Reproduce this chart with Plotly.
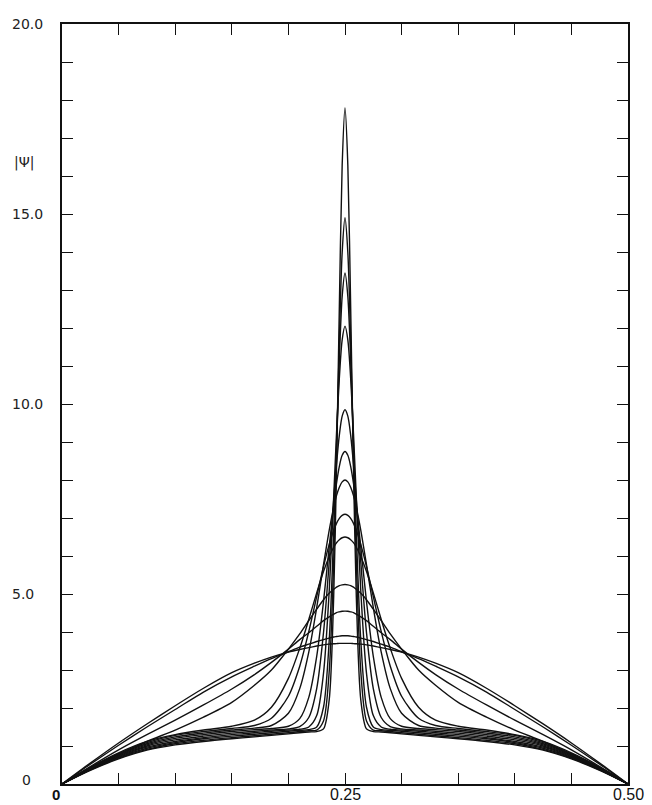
import plotly.graph_objects as go

# abscissa (left half, centre, mirrored right half)
x = [0, 0.025, 0.05, 0.075, 0.1, 0.125, 0.15, 0.17, 0.185, 0.2, 0.21, 0.218, 0.225,
     0.231, 0.236, 0.24, 0.2425, 0.245, 0.2475, 0.25,
     0.2525, 0.255, 0.2575, 0.26, 0.264, 0.269, 0.275, 0.282, 0.29, 0.3, 0.315,
     0.33, 0.35, 0.375, 0.4, 0.425, 0.45, 0.475, 0.5]

# |psi| profiles, one list per curve (peak heights 17.8 ... 3.7)
psi_01 = [0, .36, .66, .89, 1.03, 1.12, 1.19, 1.24, 1.28, 1.32, 1.35, 1.37, 1.38, 1.45, 2.2, 4.92, 8.3, 12.56, 16.29, 17.8,
          16.29, 12.56, 8.3, 4.92, 2.2, 1.45, 1.38, 1.37, 1.35, 1.32, 1.28, 1.24, 1.19, 1.12, 1.03, .89, .66, .36, 0]
psi_02 = [0, .37, .68, .91, 1.06, 1.15, 1.22, 1.27, 1.31, 1.35, 1.38, 1.4, 1.42, 1.66, 2.94, 5.84, 8.63, 11.63, 13.99, 14.9,
          13.99, 11.63, 8.63, 5.84, 2.94, 1.66, 1.42, 1.4, 1.38, 1.35, 1.31, 1.27, 1.22, 1.15, 1.06, .91, .68, .37, 0]
psi_03 = [0, .38, .70, .94, 1.09, 1.19, 1.26, 1.31, 1.35, 1.39, 1.41, 1.43, 1.5, 2.02, 3.75, 6.61, 8.92, 11.17, 12.83, 13.45,
          12.83, 11.17, 8.92, 6.61, 3.75, 2.02, 1.5, 1.43, 1.41, 1.39, 1.35, 1.31, 1.26, 1.19, 1.09, .94, .70, .38, 0]
psi_04 = [0, .39, .72, .97, 1.12, 1.22, 1.30, 1.35, 1.39, 1.42, 1.44, 1.5, 1.8, 2.91, 5.05, 7.55, 9.22, 10.68, 11.69, 12.05,
          11.69, 10.68, 9.22, 7.55, 5.05, 2.91, 1.8, 1.5, 1.44, 1.42, 1.39, 1.35, 1.30, 1.22, 1.12, .97, .72, .39, 0]
psi_05 = [0, .40, .74, 1.0, 1.16, 1.26, 1.34, 1.39, 1.42, 1.45, 1.51, 1.75, 2.51, 3.98, 5.82, 7.47, 8.41, 9.18, 9.68, 9.85,
          9.68, 9.18, 8.41, 7.47, 5.82, 3.98, 2.51, 1.75, 1.51, 1.45, 1.42, 1.39, 1.34, 1.26, 1.16, 1.0, .74, .40, 0]
psi_06 = [0, .41, .76, 1.03, 1.2, 1.3, 1.38, 1.43, 1.46, 1.52, 1.72, 2.28, 3.36, 4.8, 6.22, 7.33, 7.91, 8.36, 8.65, 8.75,
          8.65, 8.36, 7.91, 7.33, 6.22, 4.8, 3.36, 2.28, 1.72, 1.52, 1.46, 1.43, 1.38, 1.3, 1.2, 1.03, .76, .41, 0]
psi_07 = [0, .42, .78, 1.06, 1.24, 1.34, 1.42, 1.47, 1.54, 1.86, 2.51, 3.47, 4.64, 5.77, 6.67, 7.28, 7.59, 7.81, 7.95, 8.0,
          7.95, 7.81, 7.59, 7.28, 6.67, 5.77, 4.64, 3.47, 2.51, 1.86, 1.54, 1.47, 1.42, 1.34, 1.24, 1.06, .78, .42, 0]
psi_08 = [0, .43, .80, 1.09, 1.28, 1.38, 1.46, 1.54, 1.73, 2.31, 3.1, 4.01, 4.93, 5.72, 6.3, 6.68, 6.86, 6.99, 7.07, 7.1,
          7.07, 6.99, 6.86, 6.68, 6.3, 5.72, 4.93, 4.01, 3.1, 2.31, 1.73, 1.54, 1.46, 1.38, 1.28, 1.09, .80, .43, 0]
psi_09 = [0, .44, .82, 1.12, 1.3, 1.42, 1.52, 1.68, 2.02, 2.78, 3.57, 4.33, 5.03, 5.59, 5.98, 6.23, 6.35, 6.43, 6.48, 6.5,
          6.48, 6.43, 6.35, 6.23, 5.98, 5.59, 5.03, 4.33, 3.57, 2.78, 2.02, 1.68, 1.52, 1.42, 1.3, 1.12, .82, .44, 0]
psi_10 = [0, .4, .78, 1.12, 1.42, 1.76, 2.15, 2.6, 3.0, 3.55, 3.95, 4.3, 4.6, 4.85, 5.02, 5.12, 5.18, 5.22, 5.24, 5.25,
          5.24, 5.22, 5.18, 5.12, 5.02, 4.85, 4.6, 4.3, 3.95, 3.55, 3.0, 2.6, 2.15, 1.76, 1.42, 1.12, .78, .4, 0]
psi_11 = [0, .46, .9, 1.3, 1.68, 2.08, 2.5, 2.88, 3.2, 3.55, 3.8, 3.98, 4.15, 4.3, 4.4, 4.47, 4.51, 4.53, 4.545, 4.55,
          4.545, 4.53, 4.51, 4.47, 4.4, 4.3, 4.15, 3.98, 3.8, 3.55, 3.2, 2.88, 2.5, 2.08, 1.68, 1.3, .9, .46, 0]
psi_12 = [0, .52, 1.02, 1.5, 1.96, 2.42, 2.82, 3.1, 3.3, 3.48, 3.6, 3.68, 3.75, 3.8, 3.84, 3.87, 3.88, 3.89, 3.9, 3.9,
          3.9, 3.89, 3.88, 3.87, 3.84, 3.8, 3.75, 3.68, 3.6, 3.48, 3.3, 3.1, 2.82, 2.42, 1.96, 1.5, 1.02, .52, 0]
psi_13 = [0, .55, 1.08, 1.58, 2.06, 2.52, 2.93, 3.18, 3.34, 3.47, 3.54, 3.59, 3.63, 3.66, 3.68, 3.69, 3.695, 3.7, 3.7, 3.7,
          3.7, 3.7, 3.695, 3.69, 3.68, 3.66, 3.63, 3.59, 3.54, 3.47, 3.34, 3.18, 2.93, 2.52, 2.06, 1.58, 1.08, .55, 0]

curves = [psi_01, psi_02, psi_03, psi_04, psi_05, psi_06, psi_07,
          psi_08, psi_09, psi_10, psi_11, psi_12, psi_13]

# axis labelling
x_ticks = [i * 0.05 for i in range(11)]
y_ticks = list(range(21))
y_labels = {20: "20.0", 15: "15.0", 10: "10.0", 5: "5.0"}
x_labels = {0.25: "0.25", 0.5: "0.50"}

fig = go.Figure()
for ys in curves:
    fig.add_trace(go.Scatter(
        x=x, y=ys, mode="lines",
        line=dict(color="#111111", width=1.4, shape="spline", smoothing=0.8),
        hoverinfo="skip", showlegend=False))

W, H = 652, 805
L, R, T, B = 62, 24, 24, 21

axis_style = dict(showline=True, linecolor="#111111", linewidth=1.6, mirror="allticks",
                  ticks="inside", ticklen=11, tickwidth=1.4, tickcolor="#111111",
                  showgrid=False, zeroline=False, showticklabels=False)

fig.update_layout(
    width=W, height=H,
    margin=dict(l=L, r=R, t=T, b=B),
    paper_bgcolor="white", plot_bgcolor="white",
    xaxis=dict(range=[0, 0.5], tickvals=x_ticks, **axis_style),
    yaxis=dict(range=[0, 20], tickvals=y_ticks, **axis_style),
)

pw, ph = W - L - R, H - T - B


def px_x(px):
    return (px - L) / pw


def px_y(py):
    return (H - B - py) / ph


font_y = dict(family="DejaVu Sans", size=14, color="#222222")
for val, txt in y_labels.items():
    fig.add_annotation(text=txt, xref="paper", yref="y", x=px_x(10), y=val,
                       xanchor="left", yanchor="middle", showarrow=False, font=font_y)
fig.add_annotation(text="0", xref="paper", yref="y", x=px_x(26), y=0.1,
                   xanchor="center", yanchor="middle", showarrow=False, font=font_y)
fig.add_annotation(text="|Ψ|", xref="paper", yref="paper", x=px_x(12), y=px_y(163),
                   xanchor="left", yanchor="middle", showarrow=False,
                   font=dict(family="DejaVu Sans", size=14, color="#222222"))

# x-axis labels sit just under the frame
font_x = dict(family="Liberation Sans", size=16, color="#111111")
fig.add_annotation(text="<b>0</b>", xref="paper", yref="paper", x=px_x(56), y=px_y(794),
                   xanchor="center", yanchor="middle", showarrow=False,
                   font=dict(family="Liberation Sans", size=15, color="#111111"))
for val, txt in x_labels.items():
    fig.add_annotation(text=txt, xref="x", yref="paper", x=val, y=px_y(794),
                       xanchor="center", yanchor="middle", showarrow=False, font=font_x)

fig.write_html("out.html")
